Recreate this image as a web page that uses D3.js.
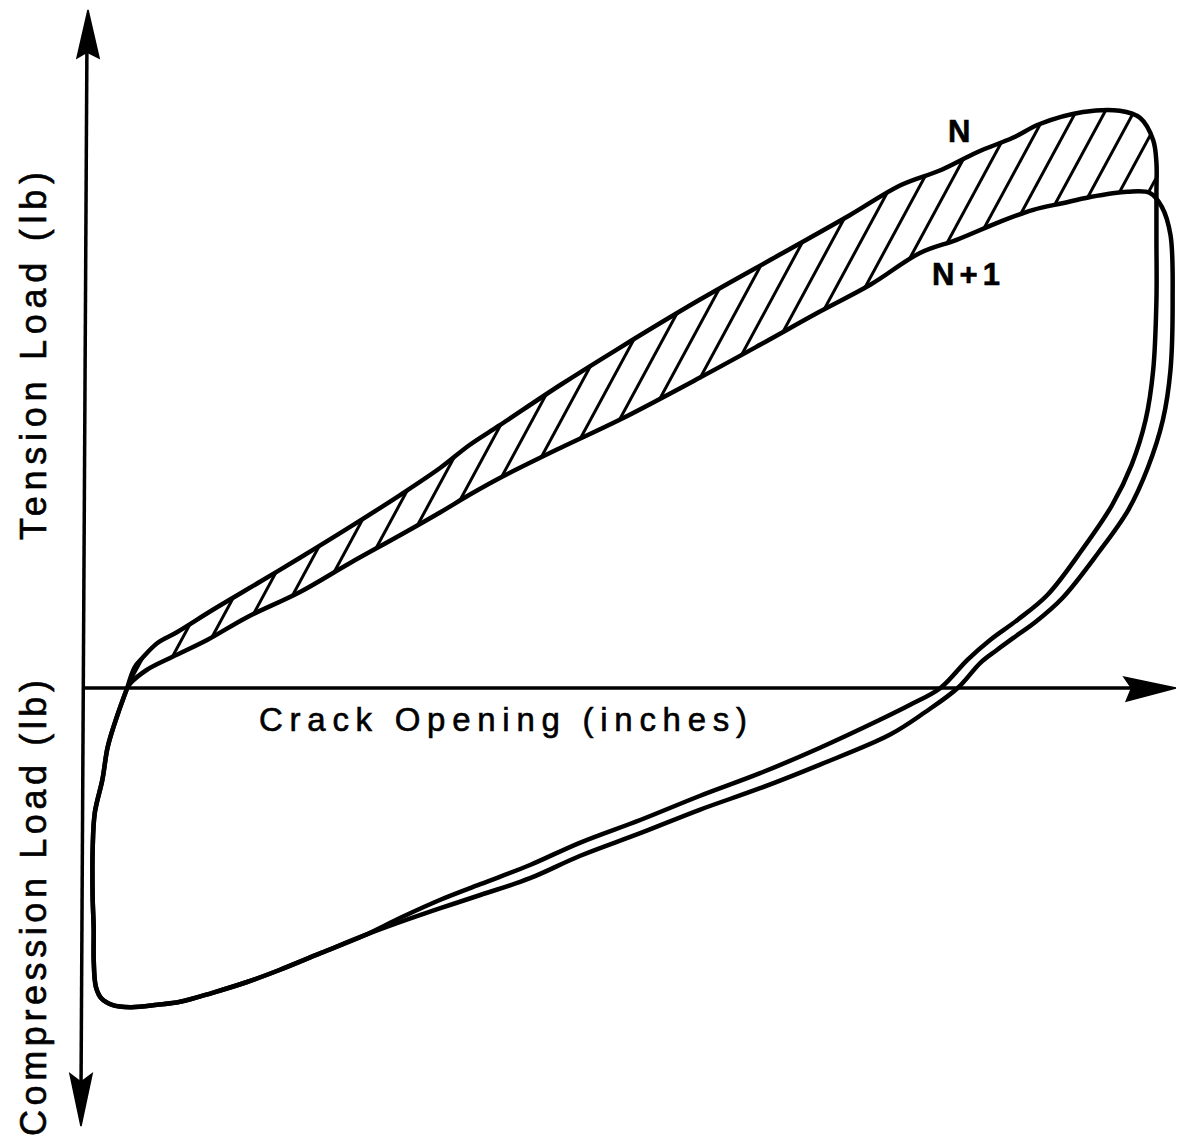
<!DOCTYPE html>
<html>
<head>
<meta charset="utf-8">
<script src="https://cdn.jsdelivr.net/npm/d3@7"></script>
<style>
  body { margin: 0; background: #fff; }
  text { font-family: "Liberation Sans", Arial, Helvetica, sans-serif; fill: #000; stroke: #000; stroke-width: 0.6; }
</style>
</head>
<body>
<div id="viz"></div>
<script>
// crack opening (0..100, arbitrary units) vs load (+ tension, - compression)

// cycle N, loading branch (lower left up to the top right turn)
var loadN = [[4.0,0.0],[4.7,3.5],[5.4,5.0],[6.8,7.5],[8.6,9.3],[11.9,13.0],[16.3,17.7],[20.0,21.7],
  [24.6,26.8],[29.3,32.2],[33.0,36.7],[35.7,40.5],[38.5,43.8],[44.1,50.5],[49.6,56.7],[57.0,64.7],
  [64.4,72.2],[70.9,78.8],[75.6,83.8],[79.3,86.3],[82.7,89.3],[86.0,91.7],[88.5,94.0],[92.5,96.0],
  [95.9,96.2],[97.8,95.0],[99.0,91.3],[99.3,87.5],[99.3,82.7]];

// cycle N, unloading branch (down the right side, back to where the two cycles merge)
var unloadN = [[99.3,74.7],[99.3,64.7],[99.0,53.0],[98.3,44.7],[97.0,37.2],[95.2,30.5],[92.4,23.0],
  [89.2,15.5],[86.4,11.3],[83.9,8.0],[81.8,4.7],[79.3,0.0],[76.5,-2.8],[73.7,-5.3],[68.1,-10.0],
  [62.6,-14.2],[57.0,-18.0],[51.5,-22.0],[45.9,-25.8],[41.3,-29.5],[36.7,-32.7],[33.0,-35.3],[29.3,-38.3]];

// cycle N+1, loading branch
var loadN1 = [[4.0,0.0],[4.3,0.8],[5.8,3.0],[8.2,5.2],[11.4,8.0],[15.1,11.8],[20.0,16.0],[24.6,20.8],
  [29.3,25.5],[33.0,29.3],[35.7,32.2],[38.5,35.0],[44.1,40.0],[49.6,44.7],[57.0,51.7],[62.6,57.2],
  [68.1,62.7],[72.8,67.2],[77.4,72.5],[80.8,74.7],[84.8,77.7],[87.9,79.7],[90.6,80.8],[93.1,81.8],
  [96.6,82.7],[98.7,82.5]];

// cycle N+1, unloading branch
var unloadN1 = [[99.8,80.2],[100.6,75.5],[100.8,64.7],[100.6,53.0],[99.9,44.7],[98.5,36.7],[96.7,29.7],
  [93.9,22.5],[90.6,15.0],[88.1,11.0],[86.4,8.8],[84.5,6.3],[83.0,4.2],[80.9,0.0],[77.9,-4.0],
  [74.6,-7.8],[68.1,-12.8],[62.6,-16.7],[57.0,-20.3],[51.5,-24.2],[45.9,-28.0],[41.3,-31.7],
  [36.7,-34.5],[33.0,-36.7],[29.3,-39.0]];

// compression end, shared by both cycles
var lowerShared = [[26.0,-41.2],[21.9,-44.2],[18.1,-47.0],[15.1,-49.0],[11.9,-50.8],[8.9,-52.3],
  [6.8,-52.8],[4.3,-53.2],[2.6,-52.8],[1.6,-51.7],[1.1,-49.8],[0.9,-45.3],[0.9,-40.3],[0.8,-34.8],
  [0.8,-27.0],[1.0,-20.8],[1.7,-15.3],[2.2,-9.8],[3.1,-4.5],[4.0,0.0]];

var axisLabels = ["Crack Opening (inches)", "Tension Load (lb)", "Compression Load (lb)"];
var curveLabels = ["N", "N+1"];

var width = 1177, height = 1141;

var svg = d3.select("#viz")
  .append("svg")
  .attr("width", width)
  .attr("height", height);

var x = d3.scaleLinear().domain([0, 100]).range([84, 1164]);
var y = d3.scaleLinear().domain([-100, 100]).range([1288, 88]);

var line = d3.line()
  .x(function(d){ return x(d[0]); })
  .y(function(d){ return y(d[1]); })
  .curve(d3.curveCatmullRom.alpha(0.5));

// hatched band between the two loading branches
var band = loadN.concat(loadN1.slice().reverse());
svg.append("clipPath").attr("id", "bandClip")
  .append("path")
  .attr("d", d3.line().x(function(d){ return x(d[0]); }).y(function(d){ return y(d[1]); })
    .curve(d3.curveCatmullRomClosed.alpha(0.5))(band));

var hatch = svg.append("g").attr("clip-path", "url(#bandClip)");
var slope = 1.85, step = 29, y0 = y(0) + 12, y1 = y(100);
d3.range(-26, 16).forEach(function(k){
  var xb = 787 + k * step;
  hatch.append("line")
    .attr("x1", xb).attr("y1", y0)
    .attr("x2", xb + (y0 - y1) / slope).attr("y2", y1)
    .attr("stroke", "#000").attr("stroke-width", 3);
});

// the two loops
var loopN = loadN.concat(unloadN, lowerShared);
var loopN1 = loadN1.concat(unloadN1, lowerShared);

[loopN, loopN1].forEach(function(pts){
  svg.append("path")
    .attr("d", line(pts))
    .attr("fill", "none")
    .attr("stroke", "#000")
    .attr("stroke-width", 4.5)
    .attr("stroke-linejoin", "round")
    .attr("stroke-linecap", "round");
});

// axes with arrow heads
var axes = svg.append("g").attr("stroke", "#000").attr("stroke-width", 3.5).attr("fill", "none");
axes.append("line")
  .attr("x1", x(0.28)).attr("y1", y(110))
  .attr("x2", x(-0.28)).attr("y2", y(-68));
axes.append("line")
  .attr("x1", x(-0.1)).attr("y1", y(0))
  .attr("x2", x(98)).attr("y2", y(0));

function arrow(tip, left, notch, right) {
  svg.append("path")
    .attr("d", "M" + tip + "L" + left + "L" + notch + "L" + right + "Z")
    .attr("fill", "#000").attr("stroke", "#000").attr("stroke-width", 1.5)
    .attr("stroke-linejoin", "miter");
}
// top (tension)
arrow([x(0.37), y(113)], [x(-0.65), y(105)], [x(0.28), y(106)], [x(1.4), y(105)]);
// bottom (compression)
arrow([x(-0.28), y(-73)], [x(-1.3), y(-64.3)], [x(-0.28), y(-65.7)], [x(0.75), y(-64.3)]);
// right (crack opening)
arrow([x(101.1), y(0)], [x(96.3), y(1.8)], [x(97.0), y(0)], [x(96.5), y(-2.2)]);

// axis titles
svg.append("text")
  .attr("x", 259).attr("y", 731)
  .attr("font-size", 33)
  .attr("textLength", 488).attr("lengthAdjust", "spacing")
  .text(axisLabels[0]);

svg.append("text")
  .attr("transform", "translate(46,540) rotate(-90)")
  .attr("font-size", 36)
  .attr("textLength", 368).attr("lengthAdjust", "spacing")
  .text(axisLabels[1]);

svg.append("text")
  .attr("transform", "translate(46,1136) rotate(-90)")
  .attr("font-size", 36)
  .attr("textLength", 456).attr("lengthAdjust", "spacing")
  .text(axisLabels[2]);

// curve labels
svg.append("text")
  .attr("x", 948).attr("y", 142)
  .attr("font-size", 31).attr("font-weight", "bold")
  .text(curveLabels[0]);

svg.append("text")
  .attr("x", 932).attr("y", 285)
  .attr("font-size", 31).attr("font-weight", "bold")
  .attr("textLength", 68).attr("lengthAdjust", "spacing")
  .text(curveLabels[1]);
</script>
</body>
</html>
